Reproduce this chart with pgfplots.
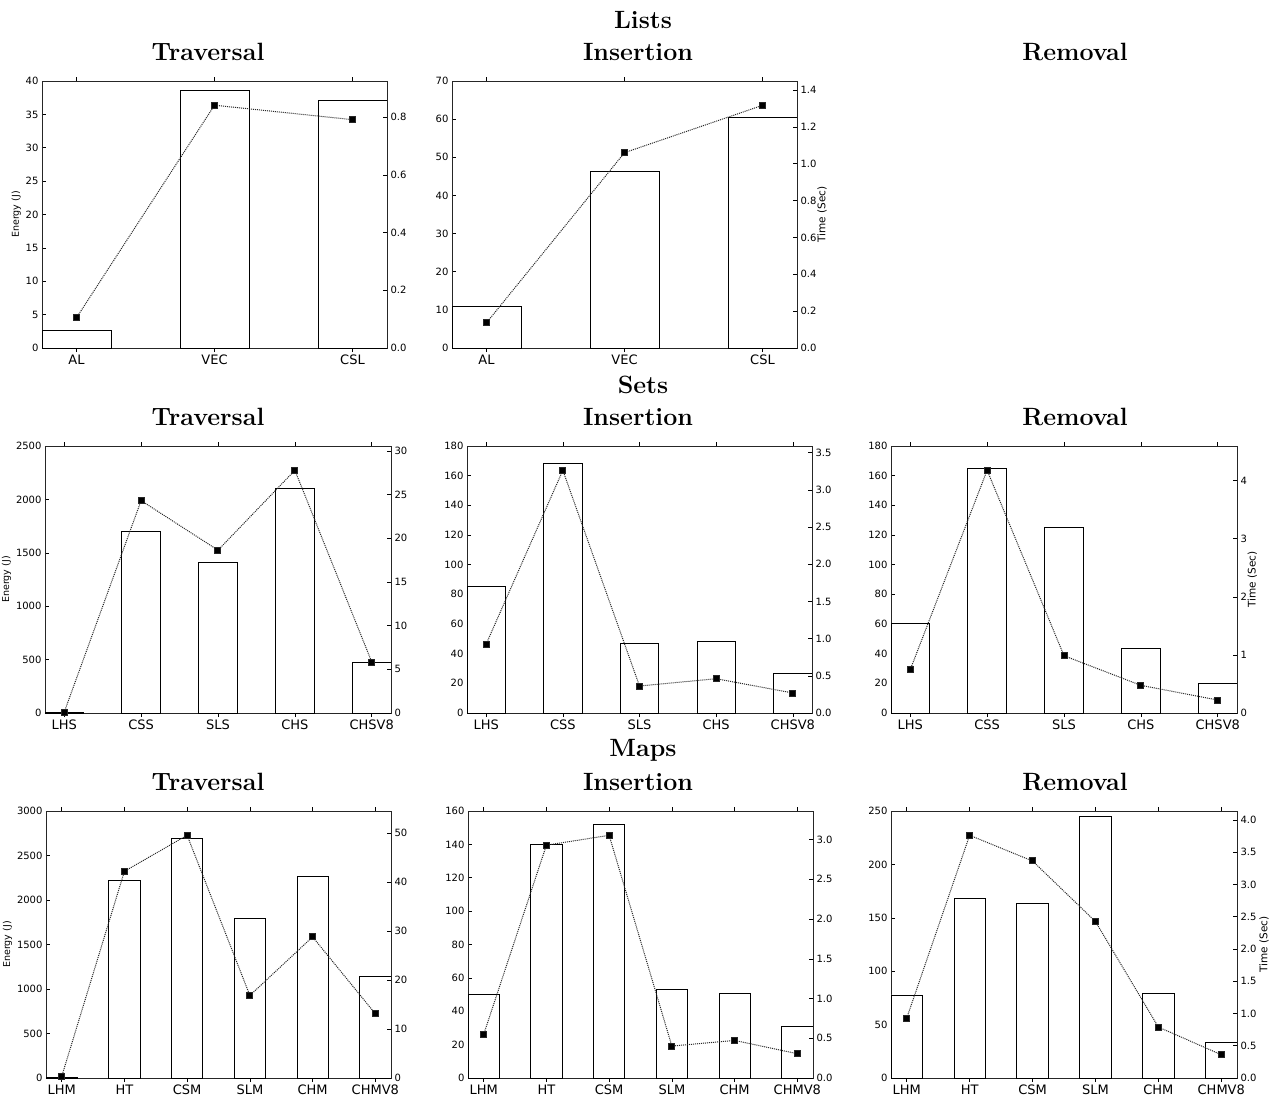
\documentclass[border=0pt]{standalone}
\usepackage{fontspec}
\usepackage{pgfplots}
\pgfplotsset{compat=1.18}
\newfontfamily\dejavu{DejaVu Sans}
\newcommand\tickfont{\dejavu\fontsize{10}{12}\selectfont}
\newcommand\catfont{\dejavu\fontsize{13}{15}\selectfont}
\newcommand\ttl[1]{{\fontsize{25}{30}\selectfont\bfseries #1}}
\pgfplotsset{
  panel/.style={scale only axis, anchor=south west, height=267pt, ymin=0, xmin=-0.25,
    tick align=inside, major tick length=4pt,
    every tick/.style={black, line width=0.6pt},
    axis line style={black!85, line width=0.8pt},
    ticklabel style={font=\tickfont},
    /pgf/number format/assume math mode=true,
    /pgf/number format/1000 sep={}},
  lft/.style={panel, ybar, bar width=0.5, ytick pos=left, xtick pos=both,
    xticklabel style={font=\catfont, yshift=1pt},
    ylabel style={font=\dejavu\fontsize{9.5}{11}\selectfont}, ylabel shift=-2pt},
  rgt/.style={panel, axis y line*=right, axis x line=none,
    ylabel style={font=\dejavu\fontsize{10.5}{12}\selectfont}, ylabel shift=-6pt},
  dec/.style={yticklabel style={/pgf/number format/.cd, fixed, fixed zerofill, precision=1}},
  barst/.style={fill=white, draw=black, line width=0.8pt},
  linest/.style={black!85, densely dotted, line width=1pt, mark=square*, mark size=3pt, mark options={solid, fill=black}},
}
\begin{document}
\begin{tikzpicture}
\useasboundingbox (0,0) rectangle (1270pt,-1095pt);
% titles
\node at (643pt,-20pt) {\ttl{Lists}};
\node at (208pt,-52pt) {\ttl{Traversal}};
\node at (638pt,-52pt) {\ttl{Insertion}};
\node at (1075pt,-52pt) {\ttl{Removal}};
\node at (643pt,-385pt) {\ttl{Sets}};
\node at (208pt,-417pt) {\ttl{Traversal}};
\node at (638pt,-417pt) {\ttl{Insertion}};
\node at (1075pt,-417pt) {\ttl{Removal}};
\node at (643pt,-750pt) {\ttl{Maps}};
\node at (208pt,-782pt) {\ttl{Traversal}};
\node at (638pt,-782pt) {\ttl{Insertion}};
\node at (1075pt,-782pt) {\ttl{Removal}};

% ===== Lists Traversal
\begin{axis}[lft, at={(42pt,-348pt)}, width=345pt, xmax=2.25, ymax=40, ytick={0,5,...,40},
  xtick={0,1,2}, xticklabels={AL,VEC,CSL}, ylabel={Energy (J)}]
\addplot[barst] coordinates {(0,2.64) (1,38.65) (2,37.06)};
\end{axis}
\begin{axis}[rgt, dec, at={(42pt,-348pt)}, width=345pt, xmax=2.25, ymax=0.926, ytick={0,0.2,...,0.81}]
\addplot[linest] coordinates {(0,0.105) (1,0.842) (2,0.792)};
\end{axis}
% ===== Lists Insertion
\begin{axis}[lft, at={(452pt,-348pt)}, width=345pt, xmax=2.25, ymax=70, ytick={0,10,...,70},
  xtick={0,1,2}, xticklabels={AL,VEC,CSL}]
\addplot[barst] coordinates {(0,10.82) (1,46.17) (2,60.4)};
\end{axis}
\begin{axis}[rgt, dec, at={(452pt,-348pt)}, width=345pt, xmax=2.25, ymax=1.449, ytick={0,0.2,...,1.41}, ylabel={Time (Sec)}]
\addplot[linest] coordinates {(0,0.137) (1,1.06) (2,1.317)};
\end{axis}

% ===== Sets Traversal
\begin{axis}[lft, at={(45pt,-713pt)}, width=346pt, xmax=4.25, ymax=2500, ytick={0,500,...,2500},
  xtick={0,...,4}, xticklabels={LHS,CSS,SLS,CHS,CHSV8}, ylabel={Energy (J)}]
\addplot[barst] coordinates {(0,8) (1,1705) (2,1412) (3,2104) (4,477)};
\end{axis}
\begin{axis}[rgt, at={(45pt,-713pt)}, width=346pt, xmax=4.25, ymax=30.57, ytick={0,5,...,30}]
\addplot[linest] coordinates {(0,0.1) (1,24.32) (2,18.64) (3,27.79) (4,5.83)};
\end{axis}
% ===== Sets Insertion
\begin{axis}[lft, at={(467pt,-713pt)}, width=345pt, xmax=4.25, ymax=180, ytick={0,20,...,180},
  xtick={0,...,4}, xticklabels={LHS,CSS,SLS,CHS,CHSV8}]
\addplot[barst] coordinates {(0,85.5) (1,168.3) (2,46.9) (3,48.0) (4,26.9)};
\end{axis}
\begin{axis}[rgt, dec, at={(467pt,-713pt)}, width=345pt, xmax=4.25, ymax=3.59, ytick={0,0.5,...,3.51}]
\addplot[linest] coordinates {(0,0.927) (1,3.263) (2,0.363) (3,0.461) (4,0.269)};
\end{axis}
% ===== Sets Removal
\begin{axis}[lft, at={(891pt,-713pt)}, width=346pt, xmax=4.25, ymax=180, ytick={0,20,...,180},
  xtick={0,...,4}, xticklabels={LHS,CSS,SLS,CHS,CHSV8}]
\addplot[barst] coordinates {(0,60.4) (1,164.9) (2,125.4) (3,43.8) (4,19.75)};
\end{axis}
\begin{axis}[rgt, at={(891pt,-713pt)}, width=346pt, xmax=4.25, ymax=4.596, ytick={0,1,...,4}, ylabel={Time (Sec)}]
\addplot[linest] coordinates {(0,0.745) (1,4.178) (2,0.986) (3,0.476) (4,0.223)};
\end{axis}

% ===== Maps Traversal
\begin{axis}[lft, at={(46pt,-1078pt)}, width=345pt, xmax=5.25, ymax=3000, ytick={0,500,...,3000},
  xtick={0,...,5}, xticklabels={LHM,HT,CSM,SLM,CHM,CHMV8}, ylabel={Energy (J)}]
\addplot[barst] coordinates {(0,10) (1,2218) (2,2697) (3,1796) (4,2267) (5,1137)};
\end{axis}
\begin{axis}[rgt, at={(46pt,-1078pt)}, width=345pt, xmax=5.25, ymax=54.56, ytick={0,10,...,50}]
\addplot[linest] coordinates {(0,0.3) (1,42.24) (2,49.6) (3,16.87) (4,28.84) (5,13.13)};
\end{axis}
% ===== Maps Insertion
\begin{axis}[lft, at={(468pt,-1078pt)}, width=345pt, xmax=5.25, ymax=160, ytick={0,20,...,160},
  xtick={0,...,5}, xticklabels={LHM,HT,CSM,SLM,CHM,CHMV8}]
\addplot[barst] coordinates {(0,50.1) (1,140.05) (2,152.2) (3,53.1) (4,50.5) (5,31.1)};
\end{axis}
\begin{axis}[rgt, dec, at={(468pt,-1078pt)}, width=345pt, xmax=5.25, ymax=3.36, ytick={0,0.5,...,3.01}]
\addplot[linest] coordinates {(0,0.549) (1,2.93) (2,3.054) (3,0.402) (4,0.473) (5,0.306)};
\end{axis}
% ===== Maps Removal
\begin{axis}[lft, at={(891pt,-1078pt)}, width=346pt, xmax=5.25, ymax=250, ytick={0,50,...,250},
  xtick={0,...,5}, xticklabels={LHM,HT,CSM,SLM,CHM,CHMV8}]
\addplot[barst] coordinates {(0,77.8) (1,168.2) (2,163.8) (3,244.5) (4,79.5) (5,33.5)};
\end{axis}
\begin{axis}[rgt, dec, at={(891pt,-1078pt)}, width=346pt, xmax=5.25, ymax=4.14, ytick={0,0.5,...,4.01}, ylabel={Time (Sec)}, ylabel shift=-4pt]
\addplot[linest] coordinates {(0,0.929) (1,3.763) (2,3.365) (3,2.426) (4,0.79) (5,0.361)};
\end{axis}
\end{tikzpicture}
\end{document}
